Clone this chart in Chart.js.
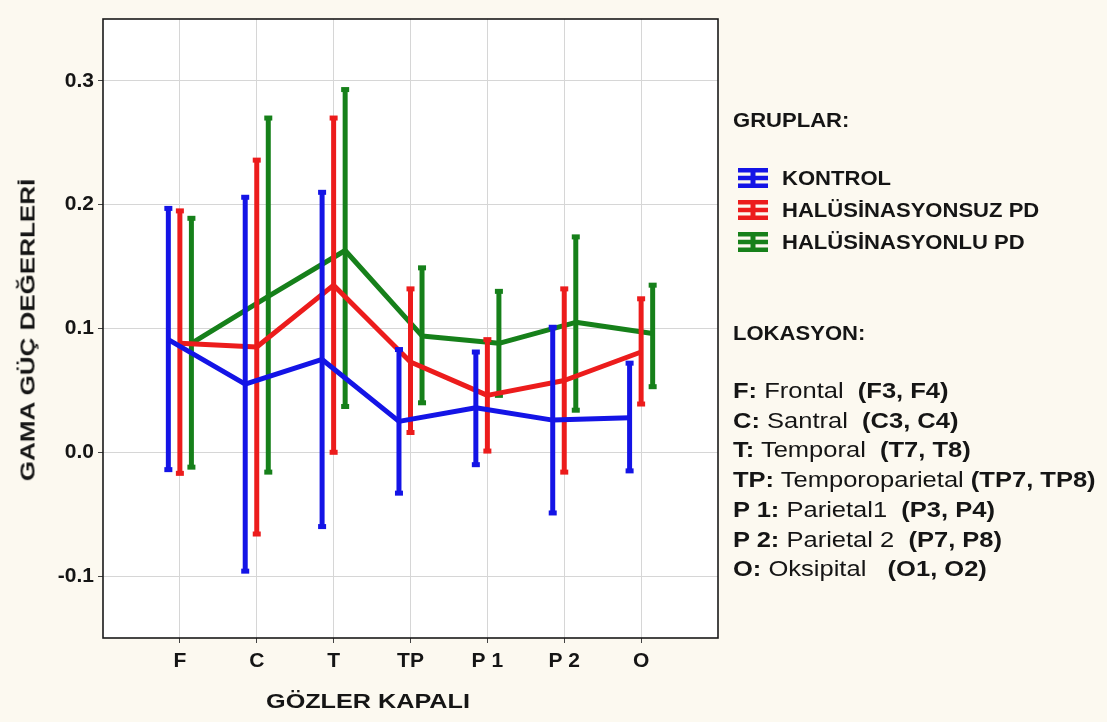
<!DOCTYPE html>
<html><head><meta charset="utf-8">
<script src="https://cdn.jsdelivr.net/npm/chart.js@4"></script>
<style>
html,body{margin:0;padding:0;background:#fcf9f0;}
#wrap{position:relative;width:1107px;height:722px;overflow:hidden;background:#fcf9f0;font-family:"Liberation Sans",Arial,sans-serif;color:#151515;}
#c{position:absolute;left:0;top:0;}
.t{position:absolute;white-space:pre;line-height:26px;height:26px;transform-origin:left center;}
.b{font-weight:bold;}
#ytitle{position:absolute;left:28px;top:330px;font-weight:bold;font-size:20px;white-space:pre;transform:translate(-50%,-50%) rotate(-90deg) scaleX(1.3);}
#xtitle{position:absolute;left:368px;top:701px;font-weight:bold;font-size:21px;white-space:pre;transform:translate(-50%,-50%) scaleX(1.2);}
.ico{position:absolute;left:738px;width:30px;height:20px;}
</style></head><body>
<div id="wrap">
<canvas id="c" width="1107" height="722"></canvas>
<div id="ytitle">GAMA GÜÇ DEĞERLERİ</div>
<div id="xtitle">GÖZLER KAPALI</div>
<div id="legend"></div>
</div>
<script>
// ---- data ----
const categories = ['F', 'C', 'T', 'TP', 'P 1', 'P 2', 'O'];
const yTickValues = [-0.1, 0.0, 0.1, 0.2, 0.3];

const kontrolMean  = [0.091, 0.055, 0.075, 0.025, 0.036, 0.026, 0.028];
const kontrolUpper = [0.197, 0.206, 0.210, 0.083, 0.081, 0.101, 0.072];
const kontrolLower = [-0.014, -0.096, -0.060, -0.033, -0.010, -0.049, -0.015];

const halsuzMean  = [0.088, 0.085, 0.135, 0.073, 0.046, 0.058, 0.081];
const halsuzUpper = [0.195, 0.236, 0.270, 0.132, 0.091, 0.132, 0.124];
const halsuzLower = [-0.017, -0.066, 0.000, 0.016, 0.001, -0.016, 0.039];

const hallMean  = [0.088, 0.126, 0.163, 0.094, 0.088, 0.105, 0.096];
const hallUpper = [0.189, 0.270, 0.293, 0.149, 0.130, 0.174, 0.135];
const hallLower = [-0.012, -0.016, 0.037, 0.040, 0.046, 0.034, 0.053];

const groupNames = ['KONTROL', 'HALÜSİNASYONSUZ PD', 'HALÜSİNASYONLU PD'];
const groupColors = ['#1414e6', '#ec1c1c', '#16801a'];

const locationCodes = ['F:', 'C:', 'T:', 'TP:', 'P 1:', 'P 2:', 'O:'];
const locationNames = [' Frontal  ', ' Santral  ', ' Temporal  ', ' Temporoparietal ', ' Parietal1  ', ' Parietal 2  ', ' Oksipital   '];
const locationElectrodes = ['(F3, F4)', '(C3, C4)', '(T7, T8)', '(TP7, TP8)', '(P3, P4)', '(P7, P8)', '(O1, O2)'];

// ---- build ----
const offsets = [-0.15, 0, 0.15];
const groups = [
  {m: kontrolMean, u: kontrolUpper, l: kontrolLower},
  {m: halsuzMean, u: halsuzUpper, l: halsuzLower},
  {m: hallMean, u: hallUpper, l: hallLower}
];
const datasets = groups.map((g, k) => ({
  label: groupNames[k],
  data: g.m.map((v, i) => ({x: i + offsets[k], y: v})),
  hi: g.u.map((v, i) => ({x: i + offsets[k], y: v})),
  lo: g.l.map((v, i) => ({x: i + offsets[k], y: v})),
  borderColor: groupColors[k],
  backgroundColor: groupColors[k],
  borderWidth: 5,
  borderJoinStyle: 'round',
  pointRadius: 0,
  tension: 0,
  fill: false
}));

const framePlugin = {
  id: 'frame',
  beforeDraw(chart) {
    const {ctx, chartArea: a} = chart;
    ctx.save();
    ctx.fillStyle = '#ffffff';
    ctx.fillRect(a.left, a.top, a.right - a.left, a.bottom - a.top);
    ctx.restore();
  },
  beforeDatasetDraw(chart, args) {
    const ds = chart.data.datasets[args.index];
    const xs = chart.scales.x, ys = chart.scales.y;
    const ctx = chart.ctx;
    ctx.save();
    ctx.strokeStyle = ds.borderColor;
    ctx.fillStyle = ds.borderColor;
    ctx.lineWidth = 5;
    ds.hi.forEach((p, i) => {
      const x = xs.getPixelForValue(p.x);
      const yh = ys.getPixelForValue(p.y);
      const yl = ys.getPixelForValue(ds.lo[i].y);
      ctx.beginPath();
      ctx.moveTo(x, yh);
      ctx.lineTo(x, yl);
      ctx.stroke();
      ctx.fillRect(x - 4, yh - 2.5, 8, 5);
      ctx.fillRect(x - 4, yl - 2.5, 8, 5);
    });
    ctx.restore();
  },
  afterDraw(chart) {
    const {ctx, chartArea: a} = chart;
    ctx.save();
    ctx.strokeStyle = '#1a1a1a';
    ctx.lineWidth = 1.6;
    ctx.strokeRect(a.left, a.top, a.right - a.left, a.bottom - a.top);
    ctx.restore();
  }
};

new Chart(document.getElementById('c'), {
  type: 'line',
  data: {datasets},
  options: {
    responsive: false,
    devicePixelRatio: 1,
    animation: false,
    layout: {padding: {left: 0, top: 19, right: 389, bottom: 0}},
    plugins: {legend: {display: false}, tooltip: {enabled: false}},
    scales: {
      x: {
        type: 'linear', min: -1, max: 7,
        afterBuildTicks: s => { s.ticks = categories.map((c, i) => ({value: i})); },
        afterFit: s => { s.height = 84; },
        ticks: {
          callback: v => categories[v] !== undefined ? categories[v] : '',
          font: {family: 'Liberation Sans', weight: 'bold', size: 21},
          color: '#151515', padding: 6, maxRotation: 0, autoSkip: false
        },
        grid: {color: '#d6d6d6', lineWidth: 1, tickLength: 5, tickColor: '#444'},
        border: {display: false}
      },
      y: {
        min: -0.15, max: 0.35,
        afterBuildTicks: s => { s.ticks = yTickValues.map(v => ({value: v})); },
        afterFit: s => { s.width = 103; },
        ticks: {
          callback: v => v.toFixed(1),
          font: {family: 'Liberation Sans', weight: 'bold', size: 21},
          color: '#151515', padding: 4
        },
        grid: {color: '#d6d6d6', lineWidth: 1, tickLength: 5, tickColor: '#444'},
        border: {display: false}
      }
    }
  },
  plugins: [framePlugin]
});

// ---- legend (HTML text) ----
const leg = document.getElementById('legend');
function addText(html, cx, cy, size, scale, cls) {
  const d = document.createElement('div');
  d.className = 't ' + (cls || '');
  d.style.left = cx + 'px';
  d.style.top = (cy - 13) + 'px';
  d.style.fontSize = size + 'px';
  d.style.transform = 'scaleX(' + scale + ')';
  d.innerHTML = html;
  leg.appendChild(d);
}
addText('GRUPLAR:', 733, 120, 21, 1.05, 'b');
const groupRows = [178, 210, 242];
groupNames.forEach((n, k) => {
  addText(n, 782, groupRows[k], 21, 1.05, 'b');
  const c = groupColors[k];
  const svg = '<svg class="ico" style="top:' + (groupRows[k] - 10) + 'px" width="30" height="20" viewBox="0 0 30 20">' +
    '<rect x="0" y="0" width="30" height="4.5" fill="' + c + '"/>' +
    '<rect x="0" y="7.75" width="30" height="4.5" fill="' + c + '"/>' +
    '<rect x="0" y="15.5" width="30" height="4.5" fill="' + c + '"/>' +
    '<rect x="12.5" y="0" width="5" height="20" fill="' + c + '"/></svg>';
  leg.insertAdjacentHTML('beforeend', svg);
});
addText('LOKASYON:', 733, 333, 21, 1.05, 'b');
locationCodes.forEach((code, i) => {
  const html = '<b>' + code + '</b>' + locationNames[i] + '<b>' + locationElectrodes[i] + '</b>';
  addText(html, 733, 391 + i * 29.7, 22, 1.16, '');
});
</script>
</body></html>
